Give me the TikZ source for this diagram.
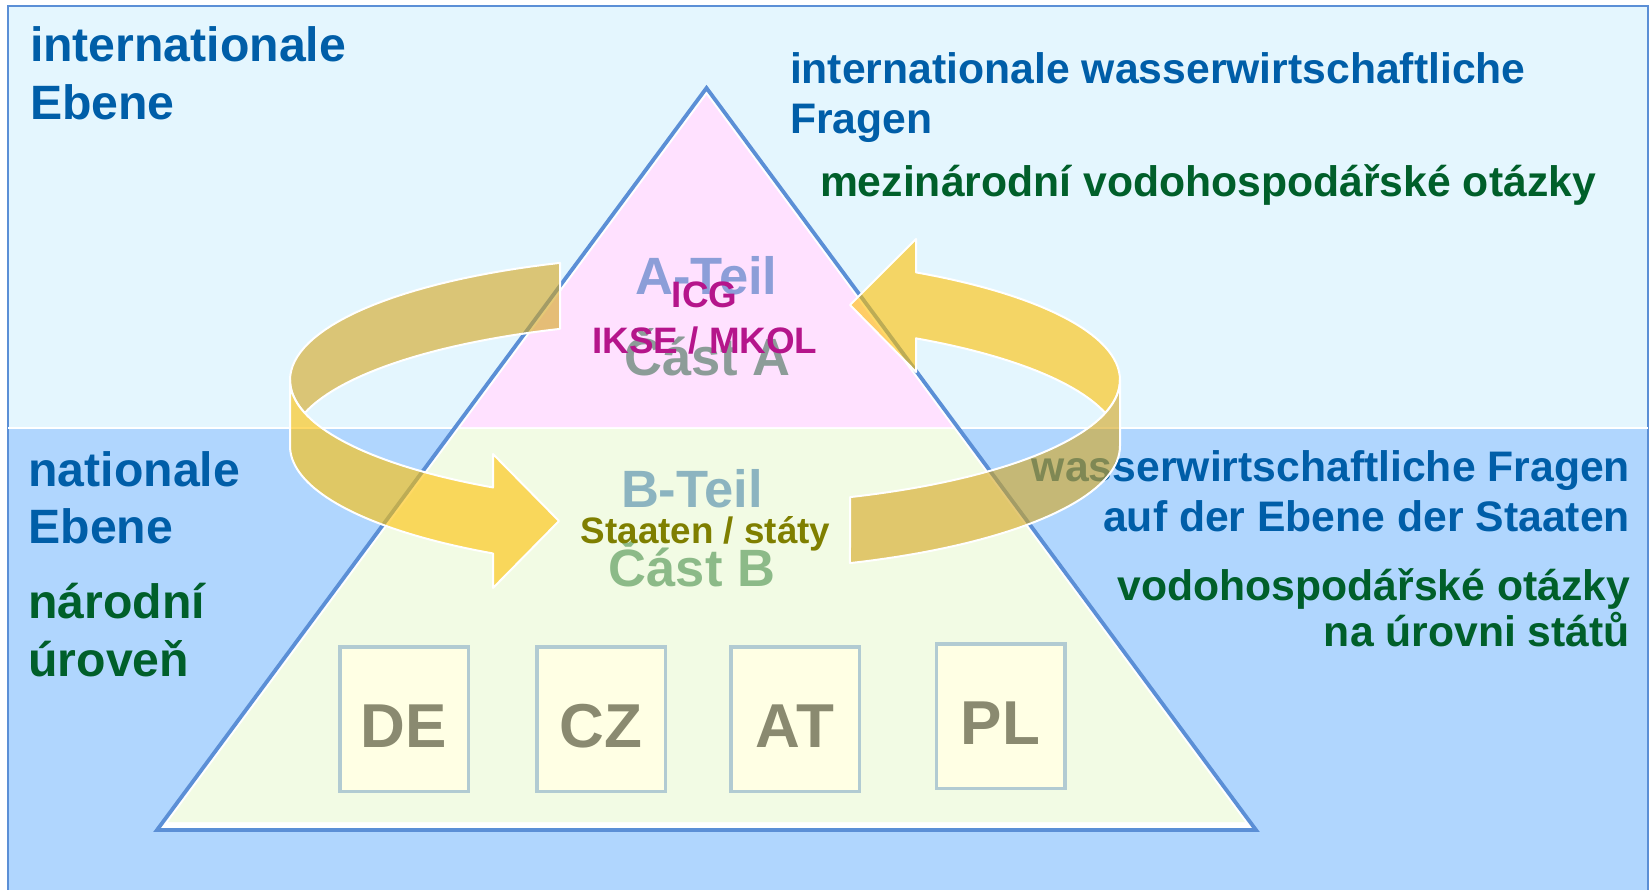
\documentclass[tikz,border=0pt]{standalone}
\usepackage{fontspec}
\setmainfont{Liberation Sans}
\definecolor{bgtop}{HTML}{E4F6FE}
\definecolor{bgbot}{HTML}{B0D6FE}
\definecolor{frameblue}{HTML}{5B8FD6}
\definecolor{pinkA}{HTML}{FFE1FF}
\definecolor{greenB}{HTML}{F2FBE4}
\definecolor{txtblue}{HTML}{005EA8}
\definecolor{txtgreen}{HTML}{005F2A}
\definecolor{ateil}{HTML}{8C9ED8}
\definecolor{casta}{HTML}{8C9C98}
\definecolor{orgmag}{HTML}{B5158B}
\definecolor{bteil}{HTML}{8CB4C0}
\definecolor{staaten}{HTML}{7F7F00}
\definecolor{castb}{HTML}{8CBA88}
\definecolor{boxborder}{HTML}{B2CBD2}
\definecolor{boxfill}{HTML}{FFFFE4}
\definecolor{boxtext}{HTML}{8A8A70}
\definecolor{arrowgold}{HTML}{FFC000}
\definecolor{arrowdark}{HTML}{D4A51C}
\tikzset{
  lvl/.style={inner sep=0pt, outer sep=0pt, font=\bfseries\fontsize{48.2}{57}\selectfont},
  side/.style={inner sep=0pt, outer sep=0pt, font=\bfseries\fontsize{42.7}{50}\selectfont},
  part/.style={inner sep=0pt, outer sep=0pt, anchor=base, font=\bfseries\fontsize{52.5}{60}\selectfont},
  org/.style={inner sep=0pt, outer sep=0pt, anchor=base, font=\bfseries\fontsize{36.8}{44}\selectfont},
  country/.style={draw=boxborder, fill=boxfill, line width=3.5pt, minimum width=128.5pt,
    minimum height=144.5pt, inner sep=0pt, text height=56pt, text depth=0pt, text=boxtext,
    font=\bfseries\fontsize{62}{70}\selectfont},
  arrbright/.style={fill=arrowgold, fill opacity=0.6, draw=white, draw opacity=1, line width=2pt, line join=round},
  arrdark/.style={fill=arrowdark, fill opacity=0.6, draw=white, draw opacity=1, line width=2pt, line join=round}
}
\begin{document}
\begin{tikzpicture}[x=1pt,y=-1pt]
\useasboundingbox (0,0) rectangle (1651,890);
\fill[white] (0,0) rectangle (1651,890);
% background levels
\fill[bgtop] (8,6) rectangle (1648,428);
\fill[bgbot] (8,428) rectangle (1648,890);
\draw[frameblue, line width=2.5pt] (8,890) -- (8,6) -- (1648,6) -- (1648,890);
\draw[white, line width=2.5pt] (8,428) -- (1648,428);
% pyramid
\draw[frameblue, line width=3.8pt, fill=white, line join=miter] (706.5,88) -- (1256,830) -- (157,830) -- cycle;
\fill[pinkA] (706.5,95) -- (952.4,427) -- (460.6,427) -- cycle;
\fill[greenB] (459.1,429) -- (953.9,429) -- (1244.9,822) -- (168.1,822) -- cycle;
% part labels
\node[part, text=ateil] (ateil) at (706.5,295) {A-Teil};
\node[org, text=orgmag] (icg) at (704.5,308) {ICG};
\node[part, text=casta] (casta) at (707.5,375) {Část A};
\node[org, text=orgmag] (ikse) at (705,353) {IKSE / MKOL};
\node[part, text=bteil] (bteil) at (692,507) {B-Teil};
\node[part, text=castb] (castb) at (692,586) {Část B};
\node[org, text=staaten] (staaten) at (705.5,543) {Staaten / státy};
% countries
\node[country] (de) at (404,719) {DE};
\node[country] (cz) at (601,719) {CZ};
\node[country] (at) at (795,719) {AT};
\node[country] (pl) at (1000.5,716) {PL};
% left texts
\node[lvl, anchor=base west, text=txtblue] (tl1) at (30,62) {internationale};
\node[lvl, anchor=base west, text=txtblue] (tl2) at (30,120) {Ebene};
\node[lvl, anchor=base west, text=txtblue] (nl1) at (28.5,486.5) {nationale};
\node[lvl, anchor=base west, text=txtblue] (nl2) at (28.5,543.5) {Ebene};
\node[lvl, anchor=base west, text=txtgreen] (nl3) at (28.5,618) {národní};
\node[lvl, anchor=base west, text=txtgreen] (nl4) at (28.5,676) {úroveň};
% right texts
\node[side, anchor=base west, text=txtblue] (tr1) at (790,83.5) {internationale wasserwirtschaftliche};
\node[side, anchor=base west, text=txtblue] (tr2) at (790,133.5) {Fragen};
\node[side, anchor=base west, text=txtgreen] (tr3) at (820,197) {mezinárodní vodohospodářské otázky};
\node[side, anchor=base east, text=txtblue] (mr1) at (1630,481) {wasserwirtschaftliche Fragen};
\node[side, anchor=base east, text=txtblue] (mr2) at (1630,531.5) {auf der Ebene der Staaten};
\node[side, anchor=base east, text=txtgreen] (mr3) at (1630,600) {vodohospodářské otázky};
\node[side, anchor=base east, text=txtgreen] (mr4) at (1630,646) {na úrovni států};
% circular arrows (3D ring)
\path[arrdark] plot[domain=249.55:164.7, samples=40, variable=\t] ({705+415*cos(\t)},{380+125*sin(\t)})
  -- plot[domain=195.3:249.55, samples=30, variable=\t] ({705+415*cos(\t)},{446+125*sin(\t)}) -- cycle;
\path[arrbright] plot[domain=180:120.72, samples=40, variable=\t] ({705+415*cos(\t)},{380+125*sin(\t)})
  -- (493,454) -- (559,521) -- (493,588)
  -- plot[domain=120.72:180, samples=40, variable=\t] ({705+415*cos(\t)},{446+125*sin(\t)}) -- cycle;
\path[arrbright] plot[domain=300.56:375.3, samples=40, variable=\t] ({705+415*cos(\t)},{380+125*sin(\t)})
  -- plot[domain=344.7:300.56, samples=30, variable=\t] ({705+415*cos(\t)},{446+125*sin(\t)})
  -- (916,372) -- (850,305) -- (916,239) -- cycle;
\path[arrdark] plot[domain=0:69.55, samples=40, variable=\t] ({705+415*cos(\t)},{380+125*sin(\t)})
  -- plot[domain=69.55:0, samples=40, variable=\t] ({705+415*cos(\t)},{446+125*sin(\t)}) -- cycle;
\end{tikzpicture}
\end{document}
